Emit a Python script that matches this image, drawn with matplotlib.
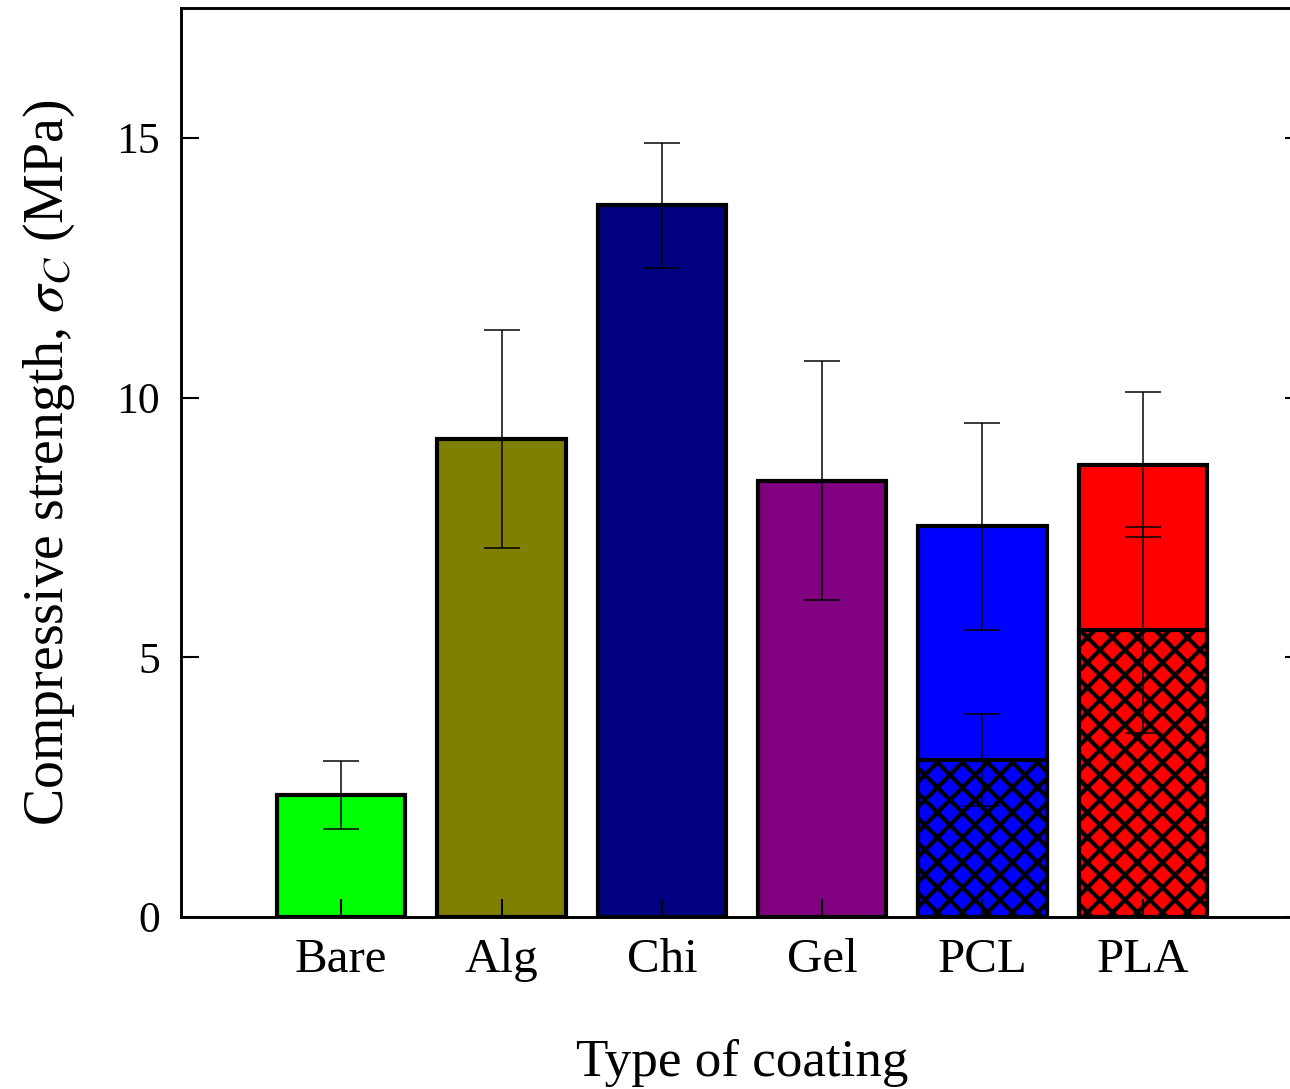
import numpy as np
import matplotlib
matplotlib.use("Agg")
import matplotlib.pyplot as plt

plt.rcParams['font.family'] = ['Liberation Serif', 'DejaVu Serif']
plt.rcParams['mathtext.fontset'] = 'stix'
plt.rcParams['hatch.linewidth'] = 2.0
plt.rcParams['hatch.color'] = 'black'

# data
coatings = ['Bare', 'Alg', 'Chi', 'Gel', 'PCL', 'PLA']
strength = [2.35, 9.2, 13.7, 8.4, 7.52, 8.71]
strength_err = [0.65, 2.1, 1.21, 2.3, 2.0, 1.4]
colors = ['#00ff00', '#808000', '#000080', '#800080', '#0000ff', '#ff0000']
# hatched (lower) part for PCL and PLA
hatch_names = ['PCL', 'PLA']
hatch_vals = [3.02, 5.52]
hatch_err = [0.88, 1.98]
hatch_colors = ['#0000ff', '#ff0000']

x = np.arange(1, len(coatings) + 1)

fig = plt.figure(figsize=(8.6, 7.26), dpi=150)
ax = fig.add_axes([181 / 1290, 1 - 917 / 1089, 1122 / 1290, 909 / 1089])

ax.bar(x, strength, width=0.8, color=colors, edgecolor='black', linewidth=2.0, zorder=1)
hx = [x[coatings.index(n)] for n in hatch_names]
ax.bar(hx, hatch_vals, width=0.8, color=hatch_colors, edgecolor='black', linewidth=2.0,
       hatch='xx', zorder=1.5)

ax.errorbar(x, strength, yerr=strength_err, fmt='none', ecolor='black', elinewidth=0.72,
            capsize=8.6, capthick=0.72, zorder=3)
ax.errorbar(hx, hatch_vals, yerr=hatch_err, fmt='none', ecolor='black', elinewidth=0.72,
            capsize=8.6, capthick=0.72, zorder=3)

ax.set_xlim(0, 7)
ax.set_ylim(0, 17.5)
ax.set_xticks(x)
ax.set_xticklabels(coatings, fontsize=23.5)
ax.set_yticks([0, 5, 10, 15])
ax.tick_params(axis='y', direction='in', length=8.6, width=1.0, labelsize=21, pad=10,
               right=True)
ax.tick_params(axis='x', direction='in', length=8.6, width=1.0, pad=10)
for s in ax.spines.values():
    s.set_linewidth(1.4)

ax.set_xlabel('Type of coating', fontsize=25.5, labelpad=27.5)
ax.set_ylabel(r'Compressive strength, $\sigma_C$ (MPa)', fontsize=26.8, labelpad=19)

fig.savefig('out.png', dpi=150)
